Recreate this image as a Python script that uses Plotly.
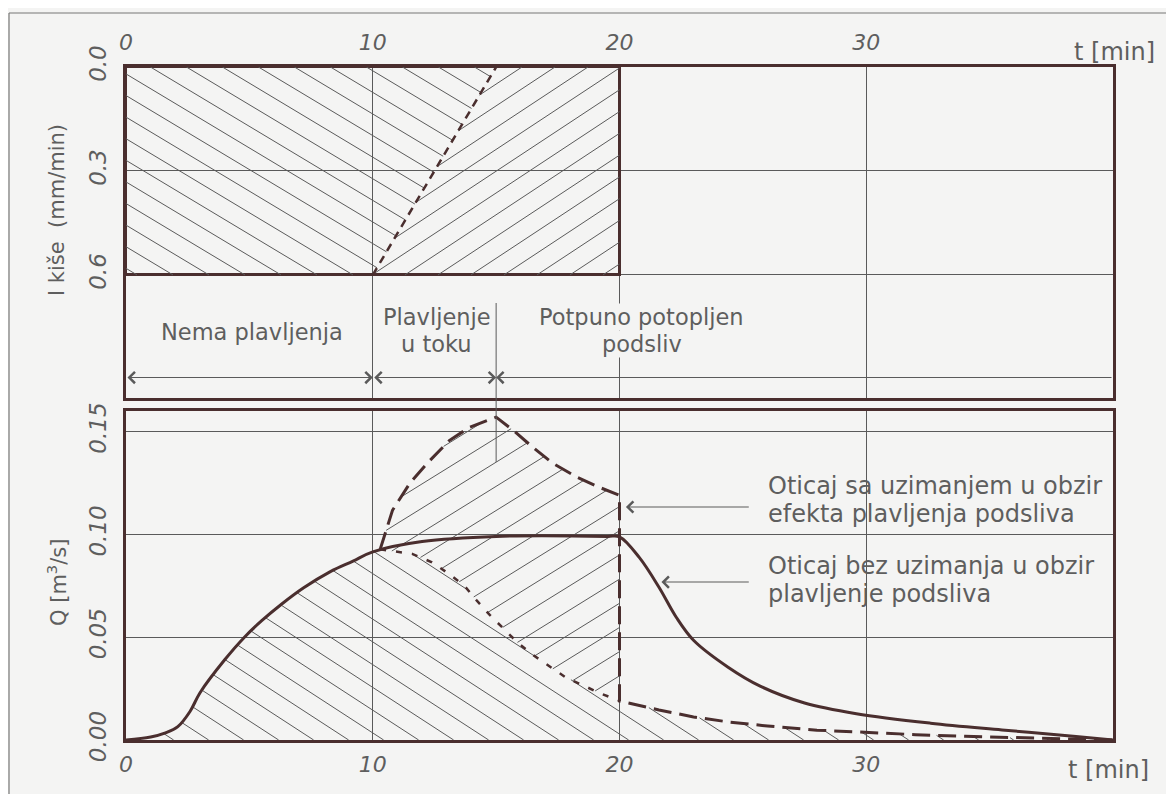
import numpy as np
import plotly.graph_objects as go

# ---------------- data ----------------
tick_t = [0, 10, 20, 30]
i_ticks = [0.0, 0.3, 0.6]
i_ticktext = ["0.0", "0.3", "0.6"]
q_ticks = [0.0, 0.05, 0.10, 0.15]
q_ticktext = ["0.00", "0.05", "0.10", "0.15"]

# hyetograph (rain intensity, mm/min)
rain_t = [0, 20]
rain_i = 0.6
split_t = [10, 15]          # boundary of flooding in the hyetograph
split_i = [0.6, 0.0]

# flooding phases [min]
phase_bounds = [0, 10, 15, 40]
phase_labels = [["Nema plavljenja"], ["Plavljenje", "u toku"], ["Potpuno potopljen", "podsliv"]]
phase_label_t = [5.1, 12.6, 20.9]
phase_label_i = [0.765, 0.760, 0.760]

# runoff without inlet flooding (solid)
solid_t = [0, 1.0, 1.6, 2.1, 2.6, 3.0, 4.0, 4.8, 5.5, 6.3, 7.2, 8.3, 9.2, 10.0, 12.0, 15.0, 19.5, 20.0,
           20.8, 21.6, 22.3, 23.0, 24.4, 25.7, 27.5, 29.6, 32.6, 35.5, 38.5, 40.0]
solid_q = [0.0, 0.0015, 0.0035, 0.0065, 0.014, 0.023, 0.039, 0.050, 0.058, 0.066, 0.074, 0.082, 0.087, 0.0915, 0.0965,
           0.099, 0.099, 0.0988,
           0.0888, 0.0743, 0.0597, 0.0485, 0.0354, 0.0262, 0.0180, 0.0128, 0.0082, 0.0049, 0.0017, 0.0]

# runoff with inlet flooding (dashed): rise to peak, then tail
flood_t = [10.3, 10.8, 11.5, 12.2, 13.1, 13.9, 15.0, 15.7, 16.5, 17.3, 18.3, 19.2, 20.0]
flood_q = [0.0927, 0.1117, 0.1248, 0.1345, 0.1456, 0.1519, 0.157, 0.1505, 0.1422, 0.1345, 0.1277, 0.1228, 0.119]
tail_t = [20.0, 21.6, 23.0, 24.4, 26.0, 28.0, 30.0, 32.0, 34.0, 36.0, 38.0, 40.0]
tail_q = [0.019, 0.0146, 0.0112, 0.0088, 0.0068, 0.0048, 0.0036, 0.0026, 0.0018, 0.0011, 0.0005, 0.0]

# reduced inflow line (short dashes)
reduced_t = [10.3, 11.6, 12.4, 13.05, 13.7, 14.2, 14.75, 15.3, 15.85, 16.5, 17.2, 17.8, 18.5, 19.2, 20.0]
reduced_q = [0.0927, 0.0905, 0.0864, 0.0811, 0.0752, 0.068, 0.0607, 0.0544, 0.0476, 0.0413, 0.0354, 0.0306, 0.0267, 0.0228, 0.019]

notes = [["Oticaj sa uzimanjem u obzir", "efekta plavljenja podsliva"],
         ["Oticaj bez uzimanja u obzir", "plavljenje podsliva"]]
note_q = [0.1165, 0.0776]
note_arrow_q = [0.1133, 0.0768]
note_arrow_head_t = [20.26, 21.7]
note_arrow_tail_t = 25.3
note_t = 25.98

# ---------------- style ----------------
BG = "#f4f4f3"
DARK = "#4a2e2e"
GRID = "#5a5a5a"
TXT = "#5e5e5e"
FONT = "DejaVu Sans ExtraLight, DejaVu Sans"
OFF = 8                       # default page body margin
W, H = 1174 - OFF, 794 - OFF
ML, MR, MT, MB = 126 - OFF, 61, 67 - OFF, 54
PX0, PY1 = 126, 740           # page pixel of plot-left / plot-bottom
T_RANGE = [0, 40]
I_RANGE = [0.955, 0]
Q_RANGE = [0, 0.16]
TOP_DOM = [0.5082, 1.0]
BOT_DOM = [0.0, 0.4889]

plot_w = W - ML - MR
plot_h = H - MT - MB
px_per_t = plot_w / (T_RANGE[1] - T_RANGE[0])
px_per_i = plot_h * (TOP_DOM[1] - TOP_DOM[0]) / abs(I_RANGE[0] - I_RANGE[1])
px_per_q = plot_h * (BOT_DOM[1] - BOT_DOM[0]) / (Q_RANGE[1] - Q_RANGE[0])


def pxx(x):
    return (x - PX0) / plot_w


def pxy(y):
    return (PY1 - y) / plot_h


def hatch(px, py, slope, step, phase=0.0):
    """Clip a family of parallel lines y = c + slope*x to polygon (px, py)."""
    px = np.asarray(px, float)
    py = np.asarray(py, float)
    b = py - slope * px
    k0 = np.floor((b.min() - phase) / step)
    k1 = np.ceil((b.max() - phase) / step)
    xs, ys = [], []
    n = len(px)
    for k in np.arange(k0, k1 + 1):
        c = phase + k * step
        f = b - c
        hits = []
        for i in range(n):
            j = (i + 1) % n
            if (f[i] > 0) != (f[j] > 0):
                s = f[i] / (f[i] - f[j])
                hits.append(px[i] + s * (px[j] - px[i]))
        hits.sort()
        for a, e in zip(hits[0::2], hits[1::2]):
            xs += [a, e, None]
            ys += [c + slope * a, c + slope * e, None]
    return xs, ys


def family(pix_slope, pix_spacing_x, px_per_y, sign):
    slope = sign * pix_slope * px_per_t / px_per_y
    step = abs(slope) * pix_spacing_x / px_per_t
    return slope, step


fig = go.Figure()
HL = dict(color=GRID, width=1)

# ---- top panel hatching ----
polyA_t = [rain_t[0], split_t[1], split_t[0], rain_t[0]]
polyA_i = [0.0, split_i[1], split_i[0], rain_i]
polyB_t = [split_t[1], rain_t[1], rain_t[1], split_t[0]]
polyB_i = [0.0, 0.0, rain_i, split_i[0]]

s, st = family(0.6, 36, px_per_i, +1)
hx, hy = hatch(polyA_t, polyA_i, s, st, 0.02)
fig.add_trace(go.Scatter(x=hx, y=hy, mode="lines", line=HL, xaxis="x", yaxis="y", hoverinfo="skip"))
s, st = family(0.66, 33, px_per_i, -1)
hx, hy = hatch(polyB_t, polyB_i, s, st, 0.0)
fig.add_trace(go.Scatter(x=hx, y=hy, mode="lines", line=HL, xaxis="x", yaxis="y", hoverinfo="skip"))

# hyetograph outline
fig.add_trace(go.Bar(x=[(rain_t[0] + rain_t[1]) / 2], y=[rain_i], width=[rain_t[1] - rain_t[0]], base=0,
                     marker=dict(color="rgba(0,0,0,0)", line=dict(color=DARK, width=3)),
                     xaxis="x", yaxis="y", hoverinfo="skip"))
fig.add_trace(go.Scatter(x=split_t, y=split_i, mode="lines",
                         line=dict(color=DARK, width=2.5, dash="8px,6px"),
                         xaxis="x", yaxis="y", hoverinfo="skip"))

# ---- bottom panel hatching ----
k = sum(1 for t in solid_t if t < reduced_t[0])
pA_t = solid_t[:k] + reduced_t + tail_t[1:]
pA_q = solid_q[:k] + reduced_q + tail_q[1:]
pB_t = flood_t + reduced_t[::-1]
pB_q = flood_q + reduced_q[::-1]

s, st = family(0.65, 35, px_per_q, -1)
hx, hy = hatch(pA_t, pA_q, s, st, 0.004)
fig.add_trace(go.Scatter(x=hx, y=hy, mode="lines", line=HL, xaxis="x2", yaxis="y2", hoverinfo="skip"))
s, st = family(0.62, 39, px_per_q, +1)
hx, hy = hatch(pB_t, pB_q, s, st, 0.0)
fig.add_trace(go.Scatter(x=hx, y=hy, mode="lines", line=HL, xaxis="x2", yaxis="y2", hoverinfo="skip"))

# curves
fig.add_trace(go.Scatter(x=reduced_t, y=reduced_q, mode="lines",
                         line=dict(color=DARK, width=2.5, dash="6px,10px"),
                         xaxis="x2", yaxis="y2", hoverinfo="skip"))
fig.add_trace(go.Scatter(x=flood_t + tail_t, y=flood_q + tail_q, mode="lines",
                         line=dict(color=DARK, width=3, dash="18px,8px"),
                         xaxis="x2", yaxis="y2", hoverinfo="skip"))
fig.add_trace(go.Scatter(x=solid_t, y=solid_q, mode="lines",
                         line=dict(color=DARK, width=3, shape="spline", smoothing=1.0),
                         xaxis="x2", yaxis="y2", hoverinfo="skip"))

# ---------------- layout ----------------
tickfont = dict(family=FONT, size=22, color=TXT, style="italic")
common_x = dict(range=T_RANGE, tickvals=tick_t, showgrid=True, gridcolor=GRID, gridwidth=1,
                showline=True, mirror=True, linecolor=DARK, zeroline=False, ticks="",
                tickfont=tickfont, fixedrange=True)
common_y = dict(showgrid=True, gridcolor=GRID, gridwidth=1, showline=True, mirror=True,
                linecolor=DARK, zeroline=False, ticks="", tickangle=-90, tickfont=dict(tickfont, size=23),
                fixedrange=True)

fig.update_layout(
    width=W, height=H, autosize=False,
    margin=dict(l=ML, r=MR, t=MT, b=MB),
    paper_bgcolor=BG, plot_bgcolor=BG, showlegend=False,
    font=dict(family=FONT, color=TXT),
    bargap=0,
    xaxis=dict(common_x, domain=[0, 1], anchor="y", side="top", linewidth=3, ticklabelstandoff=5),
    yaxis=dict(common_y, domain=TOP_DOM, range=I_RANGE, tickvals=i_ticks, ticktext=i_ticktext,
               anchor="x", linewidth=2.5, ticklabelstandoff=8),
    xaxis2=dict(common_x, domain=[0, 1], anchor="y2", side="bottom", linewidth=2.5, ticklabelstandoff=3),
    yaxis2=dict(common_y, domain=BOT_DOM, range=Q_RANGE, tickvals=q_ticks, ticktext=q_ticktext,
                anchor="x2", linewidth=2.5, ticklabelstandoff=8),
)

ann = []
shapes = []
lab = dict(family=FONT, size=22.5, color=TXT)
note_font = dict(family=FONT, size=24, color=TXT)

# axis titles
ann.append(dict(text="I kiše  (mm/min)", xref="paper", yref="paper", x=pxx(57), y=pxy(210),
                textangle=-90, showarrow=False, font=dict(lab, size=21),
                xanchor="center", yanchor="middle"))
ann.append(dict(text="Q [m<sup>3</sup>/s]", xref="paper", yref="paper", x=pxx(57), y=pxy(583),
                textangle=-90, showarrow=False, font=dict(lab, size=21),
                xanchor="center", yanchor="middle"))
ann.append(dict(text="t [min]", xref="paper", yref="paper", x=pxx(1114), y=pxy(52),
                xanchor="center", yanchor="middle", showarrow=False, font=dict(lab, size=24)))
ann.append(dict(text="t [min]", xref="paper", yref="paper", x=pxx(1108), y=pxy(770),
                xanchor="center", yanchor="middle", showarrow=False, font=dict(lab, size=24)))


def multiline(lines, x, y, xref, yref, xanchor, font, step, bg=None):
    n = len(lines)
    for m, line in enumerate(lines):
        shift = ((n - 1) / 2 - m) * step
        d = dict(text=line, xref=xref, yref=yref, x=x, y=y, yshift=shift, showarrow=False,
                 font=font, xanchor=xanchor, yanchor="middle", borderpad=0)
        if bg:
            d.update(bgcolor=bg)
        ann.append(d)


# phase labels + arrows
for lines, tx, ti in zip(phase_labels, phase_label_t, phase_label_i):
    multiline(lines, tx, ti, "x", "y", "center", lab, 26.5, bg=BG)
arrow_i = 0.896
n_ph = len(phase_bounds) - 1
for j in range(n_ph):
    a, b = phase_bounds[j], phase_bounds[j + 1]
    last = j == n_ph - 1
    ann.append(dict(text="", xref="x", yref="y", axref="x", ayref="y",
                    x=a if last else b, y=arrow_i, ax=b if last else a, ay=arrow_i,
                    showarrow=True, arrowhead=4, arrowsize=2.0, arrowwidth=1.1, arrowcolor=GRID,
                    arrowside="end" if last else "end+start", standoff=0, startstandoff=0))

# phase marker at start of full submergence
shapes.append(dict(type="line", xref="x", yref="paper", x0=phase_bounds[2], x1=phase_bounds[2],
                   y0=pxy(462), y1=pxy(303), line=dict(color=GRID, width=1)))

# right-side notes
for lines, nq, aq, ht in zip(notes, note_q, note_arrow_q, note_arrow_head_t):
    multiline(lines, note_t, nq, "x2", "y2", "left", note_font, 28)
    ann.append(dict(text="", xref="x2", yref="y2", axref="x2", ayref="y2", x=ht, y=aq,
                    ax=note_arrow_tail_t, ay=aq, showarrow=True, arrowhead=4, arrowsize=2.0,
                    arrowwidth=1.1, arrowcolor=GRID, standoff=0))

# outer frame of the scanned page
shapes.append(dict(type="line", xref="paper", yref="paper", x0=pxx(9), x1=pxx(9),
                   y0=-0.2, y1=pxy(13), line=dict(color="#777", width=1.2)))
shapes.append(dict(type="line", xref="paper", yref="paper", x0=pxx(9), x1=1.2,
                   y0=pxy(13), y1=pxy(13), line=dict(color="#777", width=1.2)))

fig.update_layout(annotations=ann, shapes=shapes)
fig.write_html("out.html")
